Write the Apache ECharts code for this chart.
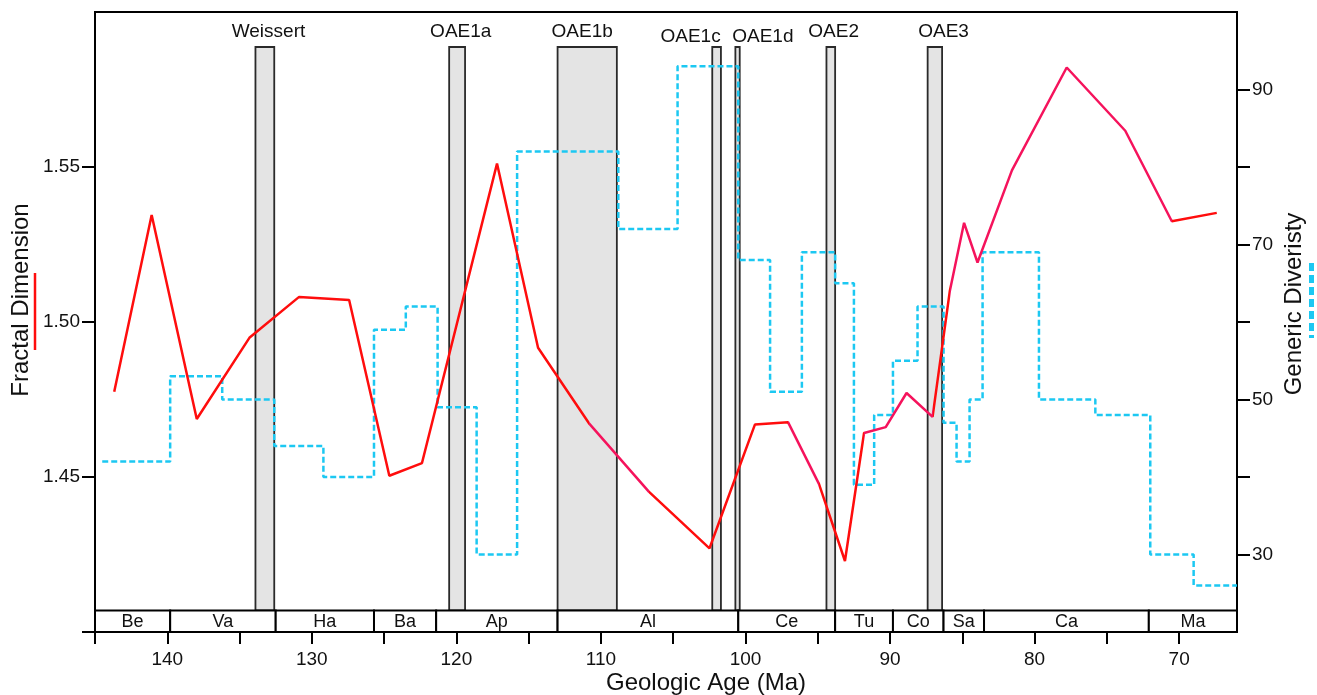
<!DOCTYPE html>
<html>
<head>
<meta charset="utf-8">
<title>Fractal dimension and generic diversity through the Cretaceous</title>
<script src="https://cdn.jsdelivr.net/npm/echarts@6/dist/echarts.min.js"></script>
<style>
    html, body { margin: 0; padding: 0; background: #fff; }
    #chart { width: 1317px; height: 695px; }
</style>
</head>
<body>
<div id="chart"></div>
<script>
// fractal dimension (red line), age in Ma
const fdAge = [143.67, 141.08, 137.96, 134.32, 130.88, 127.42, 124.64, 122.38, 117.19, 114.35,
    110.84, 106.69, 102.49, 99.35, 97.06, 94.92, 93.12, 91.80, 90.30, 88.86,
    87.06, 85.87, 84.88, 83.95, 81.57, 77.78, 73.73, 70.51, 67.40]
const fdValue = [1.4775, 1.5345, 1.4687, 1.4949, 1.5081, 1.5071, 1.4504, 1.4545, 1.5511, 1.4917,
    1.4674, 1.4453, 1.4270, 1.4669, 1.4677, 1.4478, 1.4229, 1.4642, 1.4661, 1.4771,
    1.4694, 1.5099, 1.5320, 1.5192, 1.5489, 1.5821, 1.5617, 1.5325, 1.5352]

// generic diversity (blue steps): edges in Ma, one value per interval
const divEdges = [144.5, 139.8, 136.2, 132.6, 129.2, 125.7, 123.5, 121.3, 118.6, 115.8,
    108.8, 104.7, 100.5, 98.3, 96.1, 93.8, 92.5, 91.1, 89.8, 88.1,
    86.3, 85.4, 84.5, 83.6, 79.7, 75.8, 72.0, 69.0, 66.0]
const divValues = [42, 53, 50, 44, 40, 59, 62, 49, 30, 82,
    72, 93, 68, 51, 69, 65, 39, 48, 55, 62,
    47, 42, 50, 69, 50, 48, 30, 26]

// anoxic events
const oaeNames = ['Weissert', 'OAE1a', 'OAE1b', 'OAE1c', 'OAE1d', 'OAE2', 'OAE3']
const oaeStart = [133.9, 120.5, 113.0, 102.3, 100.7, 94.4, 87.4]
const oaeEnd = [132.6, 119.4, 108.9, 101.7, 100.4, 93.8, 86.4]
const oaeLabelAge = [133.0, 119.7, 111.3, 103.8, 98.8, 93.9, 86.3]

// stages
const stageNames = ['Be', 'Va', 'Ha', 'Ba', 'Ap', 'Al', 'Ce', 'Tu', 'Co', 'Sa', 'Ca', 'Ma']
const stageEdges = [145, 139.8, 132.5, 125.7, 121.4, 113.0, 100.5, 93.8, 89.8, 86.3, 83.5, 72.1, 66]

// ticks
const ageTicks = [145, 140, 135, 130, 125, 120, 115, 110, 105, 100, 95, 90, 85, 80, 75, 70]
const ageLabels = [140, 130, 120, 110, 100, 90, 80, 70]
const fdTicks = [1.40, 1.45, 1.50, 1.55]
const fdLabels = [1.45, 1.50, 1.55]
const divTicks = [30, 40, 50, 60, 70, 80, 90]
const divLabels = [30, 50, 70, 90]

const font = 'Liberation Sans, Arial, Helvetica, sans-serif'
const red = '#ff0d0d'
const pink = '#f5135c'
const blue = '#1cc8f2'
const ink = '#111'

const fdLine = fdAge.map((a, i) => [a, fdValue[i]])
const divLine = []
divValues.forEach((v, i) => {
    divLine.push([divEdges[i], v], [divEdges[i + 1], v])
})

const lowLabels = ['OAE1c', 'OAE1d']

const chart = echarts.init(document.getElementById('chart'))

chart.setOption({
    animation: false,
    textStyle: { fontFamily: font },
    grid: {
        left: 95, top: 12, width: 1142, height: 620,
        show: true, borderColor: '#000', borderWidth: 2,
        outerBoundsMode: 'none',
    },
    xAxis: {
        type: 'value', inverse: true, min: 66, max: 145,
        axisLine: { show: true, onZero: false, lineStyle: { color: '#000', width: 2 } },
        axisTick: { show: true, customValues: ageTicks, length: 12, lineStyle: { color: '#000', width: 2 } },
        axisLabel: { customValues: ageLabels, fontSize: 19, color: ink, margin: 18, fontFamily: font },
        splitLine: { show: false },
    },
    yAxis: [
        {
            type: 'value', min: 1.40, max: 1.60, position: 'left',
            axisLine: { show: true, onZero: false, lineStyle: { color: '#000', width: 2 } },
            axisTick: { show: true, customValues: fdTicks, length: 13, lineStyle: { color: '#000', width: 2 } },
            axisLabel: {
                customValues: fdLabels, fontSize: 19, color: ink, margin: 15, fontFamily: font,
                formatter: (v) => v.toFixed(2),
            },
            splitLine: { show: false },
        },
        {
            type: 'value', min: 20, max: 100, position: 'right',
            axisLine: { show: true, onZero: false, lineStyle: { color: '#000', width: 2 } },
            axisTick: { show: true, customValues: divTicks, length: 13, lineStyle: { color: '#000', width: 2 } },
            axisLabel: { customValues: divLabels, fontSize: 19, color: ink, margin: 15, fontFamily: font },
            splitLine: { show: false },
        },
    ],
    // the red curve changes to a crimson tint on some stretches
    visualMap: {
        show: false, type: 'piecewise', seriesIndex: 3, dimension: 0,
        pieces: [
            { lt: 70.51, color: red },
            { gte: 70.51, lt: 85.87, color: pink },
            { gte: 85.87, lt: 87.06, color: red },
            { gte: 87.06, lt: 91.80, color: pink },
            { gte: 91.80, lt: 94.92, color: red },
            { gte: 94.92, lt: 97.06, color: pink },
            { gte: 97.06, lt: 106.69, color: red },
            { gte: 106.69, lt: 110.84, color: pink },
            { gte: 110.84, color: red },
        ],
    },
    graphic: [
        {
            type: 'text', x: 21, y: 300, rotation: Math.PI / 2,
            style: { text: 'Fractal Dimension', fontSize: 24, fontFamily: font, fill: ink, align: 'center', verticalAlign: 'middle' },
        },
        {
            type: 'line', shape: { x1: 35, y1: 273, x2: 35, y2: 350 },
            style: { stroke: red, lineWidth: 2.5 },
        },
        {
            type: 'text', x: 1294, y: 304, rotation: Math.PI / 2,
            style: { text: 'Generic Diveristy', fontSize: 24, fontFamily: font, fill: ink, align: 'center', verticalAlign: 'middle' },
        },
        {
            type: 'line', shape: { x1: 1311.5, y1: 263, x2: 1311.5, y2: 338 },
            style: { stroke: blue, lineWidth: 5, lineDash: [8, 4] },
        },
        {
            type: 'text', x: 706, y: 683,
            style: { text: 'Geologic Age (Ma)', fontSize: 24, fontFamily: font, fill: ink, align: 'center', verticalAlign: 'middle' },
        },
    ],
    series: [
        {
            type: 'custom',
            z: 1,
            data: oaeNames.map((n, i) => [oaeStart[i], oaeEnd[i], oaeLabelAge[i]]),
            renderItem: (params, api) => {
                const cs = params.coordSys
                const x0 = api.coord([api.value(0), 1.5])[0]
                const x1 = api.coord([api.value(1), 1.5])[0]
                const xl = api.coord([api.value(2), 1.5])[0]
                const name = oaeNames[params.dataIndex]
                const top = cs.y + 35
                return {
                    type: 'group',
                    children: [
                        {
                            type: 'rect',
                            shape: { x: Math.min(x0, x1), y: top, width: Math.abs(x1 - x0), height: cs.height - 35 - 21.5 },
                            style: { fill: '#e4e4e4', stroke: '#2a2a2a', lineWidth: 1.8 },
                        },
                        {
                            type: 'text',
                            style: {
                                text: name, x: xl, y: cs.y + (lowLabels.includes(name) ? 24.5 : 19.5),
                                align: 'center', verticalAlign: 'middle',
                                fontSize: 19, fontFamily: font, fill: ink,
                            },
                        },
                    ],
                }
            },
        },
        {
            type: 'custom',
            z: 2,
            data: stageNames.map((n, i) => [stageEdges[i], stageEdges[i + 1]]),
            renderItem: (params, api) => {
                const cs = params.coordSys
                const x0 = api.coord([api.value(0), 1.5])[0]
                const x1 = api.coord([api.value(1), 1.5])[0]
                const h = 21.5
                const y = cs.y + cs.height - h
                return {
                    type: 'group',
                    children: [
                        {
                            type: 'rect',
                            shape: { x: Math.min(x0, x1), y: y, width: Math.abs(x1 - x0), height: h },
                            style: { fill: '#fff', stroke: '#000', lineWidth: 2 },
                        },
                        {
                            type: 'text',
                            style: {
                                text: stageNames[params.dataIndex], x: (x0 + x1) / 2, y: y + h / 2 + 1,
                                align: 'center', verticalAlign: 'middle',
                                fontSize: 18, fontFamily: font, fill: ink,
                            },
                        },
                    ],
                }
            },
        },
        {
            type: 'line',
            yAxisIndex: 1,
            z: 3,
            data: divLine,
            symbol: 'none',
            lineStyle: { color: blue, width: 2.5, type: [6, 3] },
        },
        {
            type: 'line',
            yAxisIndex: 0,
            z: 4,
            data: fdLine,
            symbol: 'none',
            lineStyle: { width: 2.5 },
        },
    ],
})
</script>
</body>
</html>
